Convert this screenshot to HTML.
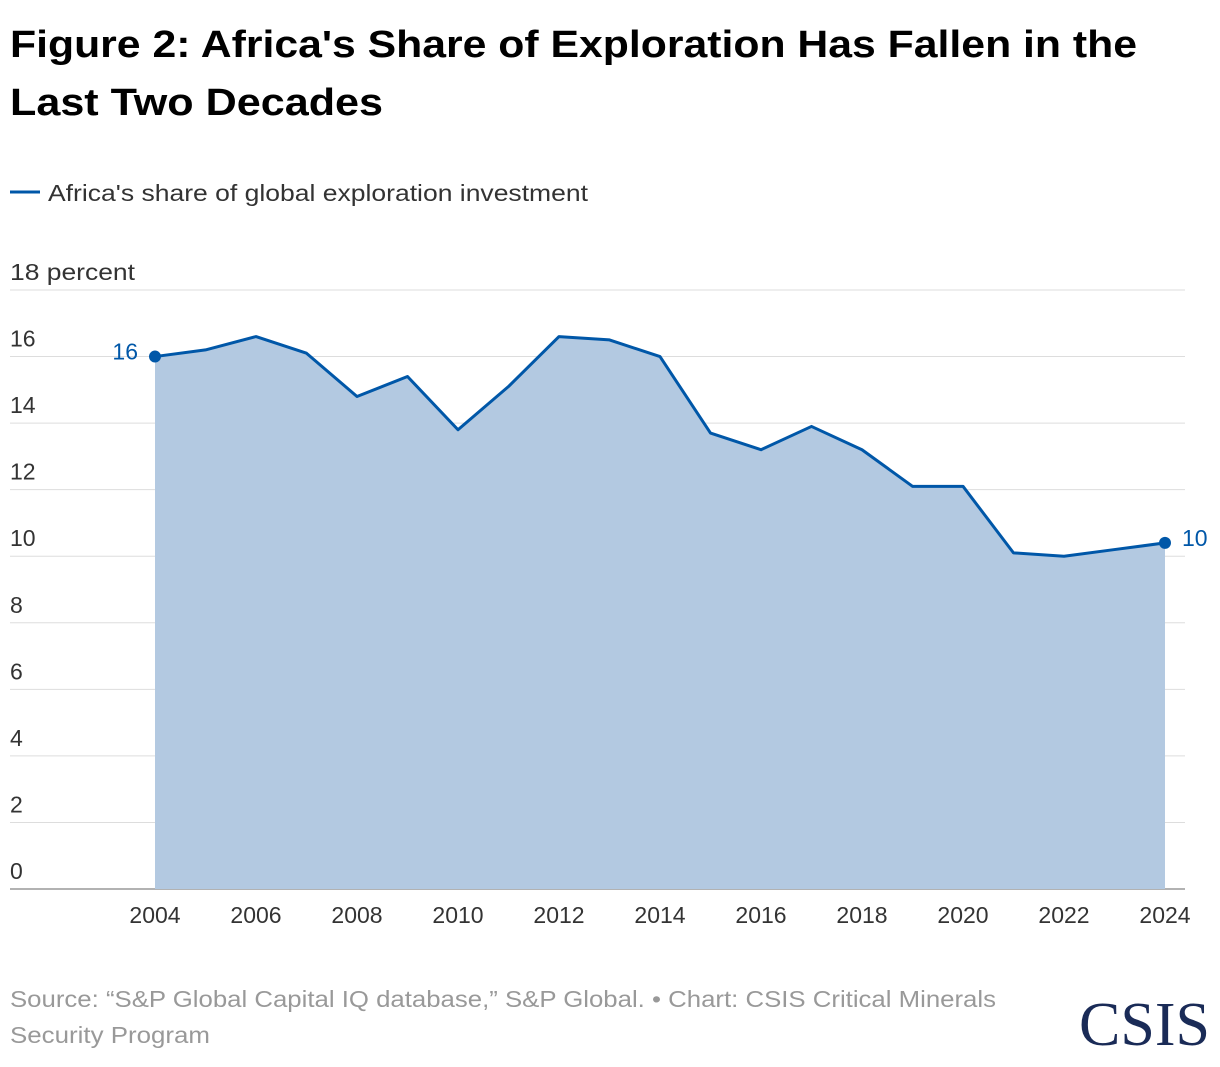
<!DOCTYPE html>
<html><head><meta charset="utf-8"><style>
body{margin:0;background:#fff;width:1220px;height:1062px;overflow:hidden;font-family:"Liberation Sans",sans-serif}
</style></head><body>
<svg width="1220" height="1062" xmlns="http://www.w3.org/2000/svg">
<text x="10" y="57" font-size="38" font-weight="bold" fill="#000" textLength="1127" lengthAdjust="spacingAndGlyphs">Figure 2: Africa's Share of Exploration Has Fallen in the</text>
<text x="10" y="115" font-size="38" font-weight="bold" fill="#000" textLength="373" lengthAdjust="spacingAndGlyphs">Last Two Decades</text>
<line x1="10" y1="192" x2="40" y2="192" stroke="#0057a8" stroke-width="3"/>
<text x="48" y="201" font-size="23" fill="#333" textLength="540" lengthAdjust="spacingAndGlyphs">Africa's share of global exploration investment</text>
<g id="grid"></g>
<g id="marks"></g>
<text x="10" y="1007" font-size="23" fill="#999" textLength="986" lengthAdjust="spacingAndGlyphs">Source: “S&amp;P Global Capital IQ database,” S&amp;P Global. • Chart: CSIS Critical Minerals</text>
<text x="10" y="1043" font-size="23" fill="#999" textLength="200" lengthAdjust="spacingAndGlyphs">Security Program</text>
<text x="1210" y="1045" text-anchor="end" font-family="Liberation Serif,serif" font-size="62" fill="#1a2b57">CSIS</text>
</svg>
<script>
const years=[2004,2005,2006,2007,2008,2009,2010,2011,2012,2013,2014,2015,2016,2017,2018,2019,2020,2021,2022,2023,2024];
const shares=[16.0,16.2,16.6,16.1,14.8,15.4,13.8,15.1,16.6,16.5,16.0,13.7,13.2,13.9,13.2,12.1,12.1,10.1,10.0,10.2,10.4];
const yTicks=[0,2,4,6,8,10,12,14,16,18];
const xTicks=[2004,2006,2008,2010,2012,2014,2016,2018,2020,2022,2024];
const NS="http://www.w3.org/2000/svg";
const X=v=>155+(v-2004)*50.5;
const Y=v=>889-v*(599/18);
function mk(t,a,p){const e=document.createElementNS(NS,t);for(const k in a)e.setAttribute(k,a[k]);p.appendChild(e);return e;}
const g=document.getElementById('grid'),m=document.getElementById('marks');
yTicks.forEach(v=>{
 const l=mk('line',{x1:10,x2:1185,y1:Y(v),y2:Y(v),stroke:v===0?'#999':'#ddd','stroke-width':v===0?1.5:1},g);
 
 
 const a={x:10,y:Y(v)-10,'font-size':23,fill:'#333'};
 if(v===18){a.textLength=125;a.lengthAdjust='spacingAndGlyphs';}
 const t=mk('text',a,g);
 t.textContent=v===18?'18 percent':v;
 
 
});
xTicks.forEach(v=>{
 const t=mk('text',{x:X(v),y:923,'font-size':23,fill:'#333','text-anchor':'middle'},g);
 t.textContent=v;
 
 
});
const pts=years.map((y,i)=>X(y)+','+Y(shares[i]));
const area=mk('polygon',{points:X(years[0])+','+Y(0)+' '+pts.join(' ')+' '+X(years[years.length-1])+','+Y(0),fill:'#b3c9e1'},m);


const line=mk('polyline',{points:pts.join(' '),fill:'none',stroke:'#0057a8','stroke-width':3,'stroke-linejoin':'round'},m);


[0,years.length-1].forEach((i,k)=>{
 const c=mk('circle',{cx:X(years[i]),cy:Y(shares[i]),r:6,fill:'#0057a8'},m);
 
 
 const t=mk('text',{x:k?X(years[i])+17:X(years[i])-17,y:Y(shares[i])+3,'font-size':23,fill:'#0057a8','text-anchor':k?'start':'end'},m);
 t.textContent=Math.round(shares[i]);
 
 
});
</script>
</body></html>
